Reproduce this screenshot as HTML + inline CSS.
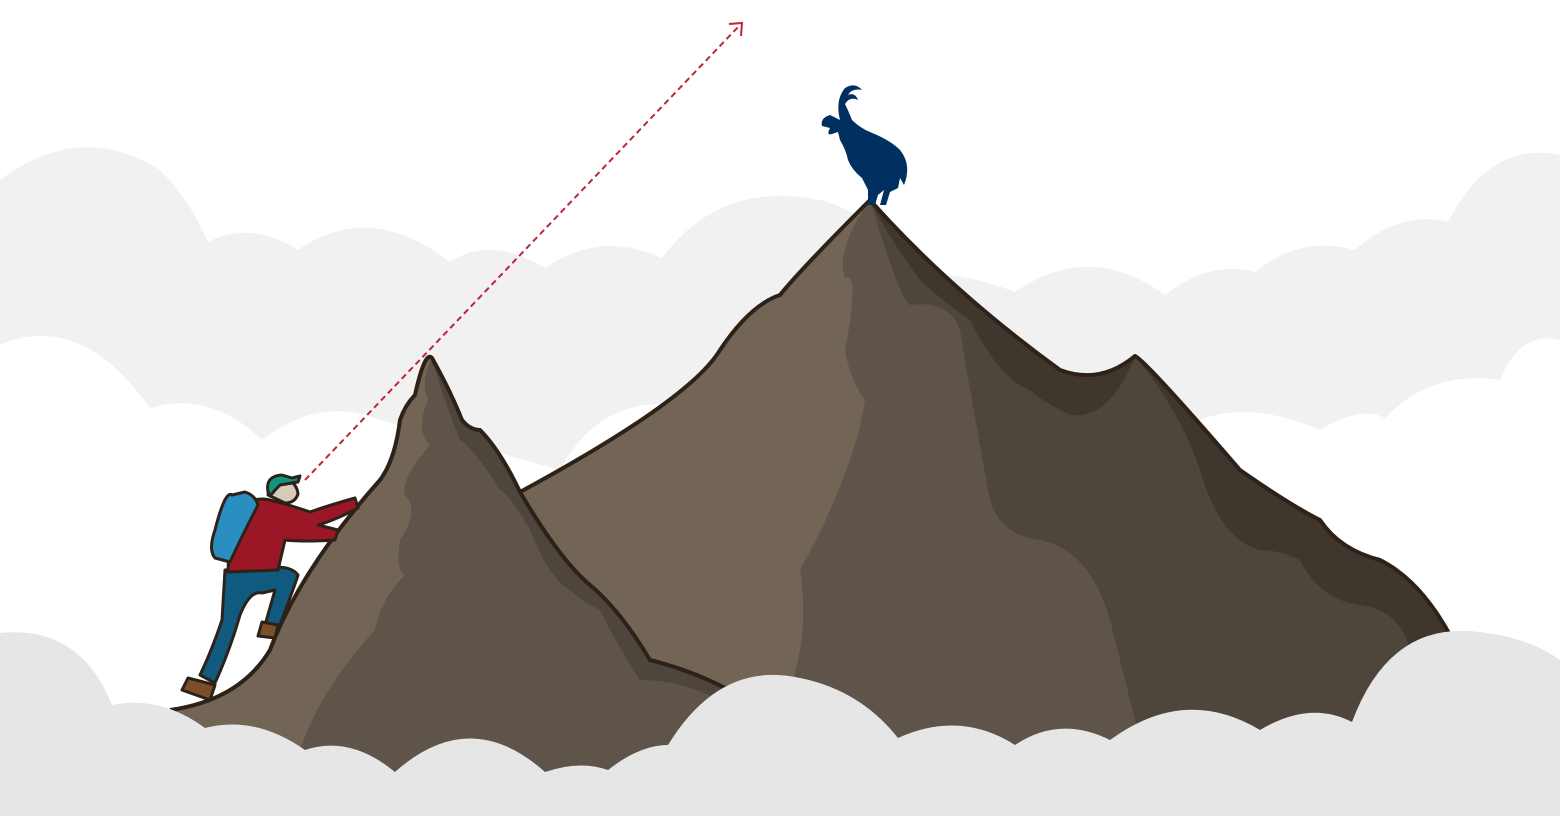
<!DOCTYPE html>
<html><head><meta charset="utf-8"><style>html,body{margin:0;padding:0;background:#fff;overflow:hidden}svg{display:block}</style></head>
<body>
<svg width="1560" height="816" viewBox="0 0 1560 816" xmlns="http://www.w3.org/2000/svg">
<rect width="1560" height="816" fill="#fff"/>
<g fill="#f1f1f1">
<path d="M0 180 Q80 120 160 170 Q190 200 208 242 Q250 220 298 250 Q370 200 450 262 Q490 235 545 268 Q600 230 662 258 Q720 180 820 200 Q880 215 905 275 Q960 270 1015 292 Q1090 240 1165 295 Q1210 260 1255 272 Q1300 235 1355 250 Q1400 210 1448 222 Q1490 140 1560 155 L1560 816 L0 816 Z"/>
</g>
<g fill="#fff">
<path d="M0 345 Q80 310 150 408 Q210 390 262 440 Q320 395 380 420 L560 470 Q600 395 680 405 L1200 420 Q1250 400 1320 430 Q1360 405 1385 418 Q1430 370 1500 380 Q1520 330 1560 340 L1560 816 L0 816 Z"/>
</g>
<g stroke-linejoin="round">
<path d="M520 492 Q690 400 720 350 Q750 305 780 295 Q800 270 870 200 Q950 290 1060 370 Q1100 385 1135 356 Q1145 360 1240 470 Q1290 505 1320 520 Q1340 550 1380 560 Q1420 580 1450 635 L1450 800 L520 800 Z" fill="#5e5449"/>
<path d="M520 492 Q690 400 720 350 Q750 305 780 295 Q800 270 870 200 Q835 250 845 278 Q860 270 845 350 Q850 380 865 400 Q855 470 800 570 Q810 630 790 690 L600 690 Q560 560 520 492 Z" fill="#726556"/>
<path d="M870 200 Q900 300 910 305 Q950 300 960 330 Q975 420 990 500 Q1000 535 1040 540 Q1090 550 1110 620 Q1130 700 1140 740 L1450 740 L1450 635 Q1420 580 1380 560 Q1340 550 1320 520 Q1290 505 1240 470 Q1145 360 1135 356 Q1100 385 1060 370 Q950 290 870 200 Z" fill="#4e463d"/>
<path d="M870 200 Q950 290 1060 370 Q1100 385 1135 356 Q1145 360 1240 470 Q1290 505 1320 520 Q1340 550 1380 560 Q1420 580 1450 635 L1410 650 Q1400 610 1360 605 Q1320 600 1300 560 Q1280 550 1260 550 Q1220 540 1200 470 Q1180 410 1135 356 Q1110 420 1070 415 Q1040 400 1030 390 Q1000 380 970 320 Q935 295 920 280 Q890 240 870 200 Z" fill="#3f362e"/>
<path d="M520 492 Q690 400 720 350 Q750 305 780 295 Q800 270 870 200 Q950 290 1060 370 Q1100 385 1135 356 Q1145 360 1240 470 Q1290 505 1320 520 Q1340 550 1380 560 Q1420 580 1450 635" fill="none" stroke="#2e2117" stroke-width="4"/>
</g>
<g>
<path d="M170 710 Q240 700 270 650 Q300 570 380 480 Q395 460 400 420 Q405 405 415 395 Q425 350 432 358 Q450 390 462 420 Q470 430 480 430 Q500 450 520 492 Q560 560 590 585 Q620 610 650 660 Q690 670 725 688 L725 800 L170 800 Z" fill="#5e5449"/>
<path d="M170 710 Q240 700 270 650 Q300 570 380 480 Q395 460 400 420 Q405 405 415 395 Q425 350 432 358 Q420 380 428 400 Q415 430 430 445 Q400 480 405 495 Q420 510 400 540 Q395 570 405 575 Q380 600 375 630 Q320 690 300 750 L170 750 Z" fill="#726556"/>
<path d="M432 358 Q450 390 462 420 Q470 430 480 430 Q500 450 520 492 Q560 560 590 585 Q620 610 650 660 Q690 670 725 688 L720 700 Q680 680 640 680 Q620 650 600 610 Q580 600 570 590 Q550 580 530 530 Q510 495 500 490 Q475 450 460 440 Q440 390 432 358 Z" fill="#4e463d"/>
<path d="M170 710 Q240 700 270 650 Q300 570 380 480 Q395 460 400 420 Q405 405 415 395 Q425 350 432 358 Q450 390 462 420 Q470 430 480 430 Q500 450 520 492 Q560 560 590 585 Q620 610 650 660 Q690 670 725 688" fill="none" stroke="#2e2117" stroke-width="4" stroke-linejoin="round"/>
</g>
<g stroke="#2e2117" stroke-width="3" stroke-linejoin="round" stroke-linecap="round">
<path d="M225 570 L222 620 Q212 650 200 675 L215 683 Q230 650 240 615 Q250 590 262 593 L275 590 L265 625 L278 630 Q295 585 298 575 Q290 565 270 568 Z" fill="#0f5a7e"/>
<path d="M188 678 L182 690 L210 700 L215 685 Z" fill="#7b4f2a"/>
<path d="M262 622 L258 636 L275 638 L278 625 Z" fill="#7b4f2a"/>
<path d="M230 515 Q250 495 270 500 Q290 505 310 512 Q330 505 355 498 L358 508 Q335 520 318 525 L338 530 L335 540 Q305 542 285 540 L278 570 L228 572 Z" fill="#9c1726"/>
<path d="M232 495 Q225 490 215 530 Q208 550 215 558 L230 562 Q240 540 258 505 Q255 495 245 492 Z" fill="#2a8ec1"/>
<path d="M268 495 Q270 478 285 478 Q297 483 298 494 Q295 503 285 503 Z" fill="#d6cbb8"/>
<path d="M268 492 Q265 476 282 475 L292 478 L300 476 L298 482 L280 485 Q275 490 270 496 Z" fill="#12957f"/>
</g>
<g fill="#003060">
<path d="M840 120 Q835 100 845 88 Q855 82 862 90 Q852 88 848 95 Q855 92 858 100 Q850 96 845 104 Q848 110 852 120 Q860 128 870 132 Q890 140 900 150 Q912 165 904 185 L900 178 L898 188 L890 192 L886 205 L880 205 L884 190 L878 195 L875 205 L868 205 L868 190 L862 178 Q852 170 848 160 Q846 150 840 140 L838 132 L832 134 Q826 136 830 128 L822 126 Q820 118 830 115 Z"/>
</g>
<g stroke="#c0243a" stroke-width="2" fill="none">
<line x1="305" y1="480" x2="740" y2="25" stroke-dasharray="6,4"/>
<polyline points="729,24 742,23 741,36"/>
</g>
<g fill="#e6e6e6">
<path d="M0 633 Q80 625 112 705 Q160 695 205 728 Q255 715 305 750 Q350 735 395 772 Q470 705 545 772 Q580 760 608 770 Q640 745 668 745 Q720 660 800 678 Q860 690 898 738 Q960 710 1015 745 Q1060 715 1110 740 Q1185 685 1260 730 Q1310 700 1352 722 Q1390 620 1480 632 Q1530 638 1560 660 L1560 816 L0 816 Z"/>
</g>
</svg>
</body></html>
